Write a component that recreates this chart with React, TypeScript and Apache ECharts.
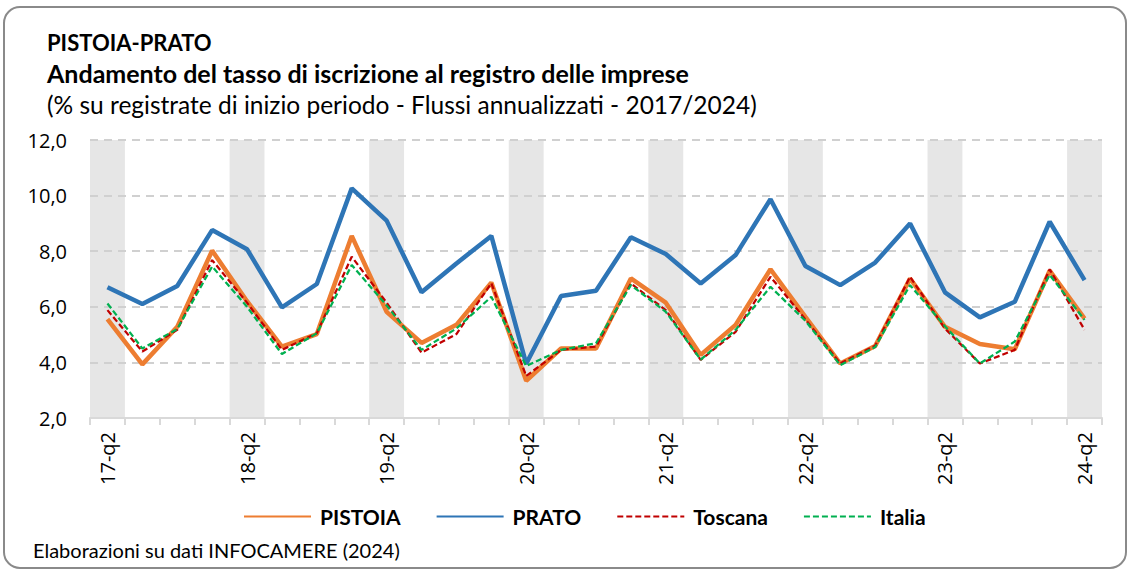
import React, { useEffect, useRef } from "react";
import * as echarts from "echarts";

const categories = [
  "17-q2", "17-q3", "17-q4", "18-q1", "18-q2", "18-q3", "18-q4", "19-q1",
  "19-q2", "19-q3", "19-q4", "20-q1", "20-q2", "20-q3", "20-q4", "21-q1",
  "21-q2", "21-q3", "21-q4", "22-q1", "22-q2", "22-q3", "22-q4", "23-q1",
  "23-q2", "23-q3", "23-q4", "24-q1", "24-q2",
];

const pistoia = [5.56, 3.93, 5.28, 8.02, 6.2, 4.57, 5.02, 8.55, 5.82, 4.7, 5.35, 6.87, 3.34, 4.5, 4.5, 7.02, 6.15, 4.27, 5.35, 7.35, 5.64, 3.96, 4.59, 7.02, 5.28, 4.66, 4.47, 7.3, 5.58];
const prato = [6.7, 6.1, 6.75, 8.76, 8.07, 5.98, 6.82, 10.26, 9.1, 6.52, 7.56, 8.55, 3.95, 6.39, 6.58, 8.5, 7.9, 6.84, 7.86, 9.87, 7.47, 6.78, 7.59, 9.0, 6.52, 5.62, 6.18, 9.06, 6.96];
const toscana = [5.88, 4.39, 5.17, 7.68, 6.15, 4.45, 5.05, 7.8, 6.15, 4.35, 5.02, 6.85, 3.51, 4.45, 4.57, 6.84, 5.88, 4.09, 5.1, 7.08, 5.55, 3.96, 4.6, 7.08, 5.22, 3.96, 4.45, 7.35, 5.17];
const italia = [6.12, 4.5, 5.2, 7.45, 6.0, 4.3, 5.05, 7.5, 6.05, 4.45, 5.22, 6.36, 3.87, 4.45, 4.69, 6.78, 5.82, 4.1, 5.17, 6.72, 5.5, 3.9, 4.55, 6.78, 5.3, 3.96, 4.75, 7.15, 5.53];

const yMin = 2;
const yMax = 12;
const yStep = 2;

const titleLines = [
  "PISTOIA-PRATO",
  "Andamento del tasso di iscrizione al registro delle imprese",
  "(% su registrate di inizio periodo - Flussi annualizzati - 2017/2024)",
];
const sourceNote = "Elaborazioni su dati INFOCAMERE (2024)";

const FONT = "Lato, 'Open Sans', sans-serif";
const AXIS_FONT = "'Open Sans', sans-serif";

export default function App() {
  const ref = useRef<HTMLDivElement>(null);

  useEffect(() => {
    if (!ref.current) return;
    const chart = echarts.init(ref.current, undefined, { renderer: "svg" });

    const bands = categories.map((_, i) => (i % 4 === 0 ? yMax : "-"));

    chart.setOption({
      animation: false,
      backgroundColor: "#ffffff",
      grid: { left: 90, right: 27, top: 140, bottom: 153, containLabel: false },
      legend: {
        data: ["PISTOIA", "PRATO", "Toscana", "Italia"],
        left: 243,
        top: 506,
        padding: 0,
        itemWidth: 67,
        itemHeight: 14,
        itemGap: 35,
        itemStyle: { opacity: 0 },
        textStyle: { fontFamily: FONT, fontSize: 21, fontWeight: "bold", color: "#000", padding: [0, 0, 0, 4] },
      },
      xAxis: {
        type: "category",
        data: categories,
        boundaryGap: true,
        axisLine: { show: true, lineStyle: { color: "#d9d9d9", width: 2 } },
        axisTick: { show: true, interval: 0, length: 7, lineStyle: { color: "#d9d9d9", width: 2 } },
        axisLabel: {
          interval: 3,
          rotate: 90,
          margin: 14,
          fontFamily: AXIS_FONT,
          fontSize: 20,
          color: "#000",
        },
        splitLine: { show: false },
      },
      yAxis: {
        type: "value",
        min: yMin,
        max: yMax,
        interval: yStep,
        axisLine: { show: false },
        axisTick: { show: false },
        axisLabel: {
          margin: 23,
          fontFamily: AXIS_FONT,
          fontSize: 20,
          color: "#000",
          formatter: (v: number) => v.toFixed(1).replace(".", ","),
        },
        splitLine: { show: true, lineStyle: { color: "#d0d0d0", width: 2, type: [8, 6] } },
      },
      series: [
        {
          name: "bands",
          type: "bar",
          data: bands,
          barWidth: "100%",
          silent: true,
          z: -1,
          itemStyle: { color: "#e6e6e6" },
        },
        {
          name: "PRATO",
          type: "line",
          data: prato,
          symbol: "none",
          lineStyle: { color: "#2E75B6", width: 4.5 },
          itemStyle: { color: "#2E75B6" },
          z: 3,
        },
        {
          name: "PISTOIA",
          type: "line",
          data: pistoia,
          symbol: "none",
          lineStyle: { color: "#ED7D31", width: 4.5 },
          itemStyle: { color: "#ED7D31" },
          z: 4,
        },
        {
          name: "Toscana",
          type: "line",
          data: toscana,
          symbol: "none",
          lineStyle: { color: "#C00000", width: 2.25, type: [6, 3] },
          itemStyle: { color: "#C00000" },
          z: 5,
        },
        {
          name: "Italia",
          type: "line",
          data: italia,
          symbol: "none",
          lineStyle: { color: "#00B050", width: 2.25, type: [6, 3] },
          itemStyle: { color: "#00B050" },
          z: 6,
        },
      ],
      graphic: [
        {
          type: "rect",
          shape: { x: 4, y: 7, width: 1122, height: 561, r: 16 },
          style: { fill: "none", stroke: "#8a8a8a", lineWidth: 2 },
          silent: true,
          z: 100,
        },
        {
          type: "text",
          x: 47,
          y: 42,
          style: { text: titleLines[0], font: `bold 22px ${FONT}`, fill: "#000", verticalAlign: "middle" },
        },
        {
          type: "text",
          x: 47,
          y: 73,
          style: { text: titleLines[1], font: `bold 25px ${FONT}`, fill: "#000", verticalAlign: "middle" },
        },
        {
          type: "text",
          x: 47,
          y: 104,
          style: { text: titleLines[2], font: `24.5px ${FONT}`, fill: "#000", verticalAlign: "middle" },
        },
        {
          type: "text",
          x: 33,
          y: 550,
          style: { text: sourceNote, font: `20px ${FONT}`, fill: "#000", verticalAlign: "middle" },
        },
      ],
    });

    return () => chart.dispose();
  }, []);

  return (
    <div
      ref={ref}
      style={{ position: "fixed", left: 0, top: 0, width: 1129, height: 571 }}
    />
  );
}
